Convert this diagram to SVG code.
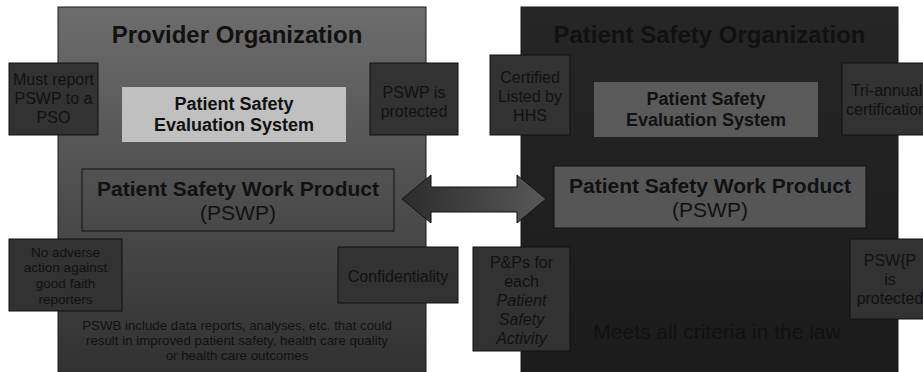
<svg xmlns="http://www.w3.org/2000/svg" width="923" height="372" viewBox="0 0 923 372">
  <style>
    text { font-family: "Liberation Sans", Arial, sans-serif; fill: #111; text-anchor: middle; }
    .title { font-size: 24px; font-weight: bold; }
    .bold { font-weight: bold; }
    .note { font-size: 16px; }
    .side { fill: #323232; stroke: #111; stroke-width: 1; }
    .edge { stroke: #1a1a1a; stroke-width: 1; }
  </style>
  <defs>
    <linearGradient id="providerFill" x1="0" y1="0" x2="0" y2="1">
      <stop offset="0" stop-color="#6d6d6d"/>
      <stop offset="1" stop-color="#303030"/>
    </linearGradient>
    <linearGradient id="psoFill" x1="0" y1="0" x2="0" y2="1">
      <stop offset="0" stop-color="#262626"/>
      <stop offset="1" stop-color="#1b1b1b"/>
    </linearGradient>
    <linearGradient id="arrowFill" x1="0" y1="0" x2="1" y2="0">
      <stop offset="0" stop-color="#2c2c2c"/>
      <stop offset="1" stop-color="#585858"/>
    </linearGradient>
  </defs>

  <rect width="923" height="372" fill="#ffffff"/>

  <!-- Provider organization panel -->
  <g id="provider-organization">
    <rect x="58" y="7" width="368" height="370" fill="url(#providerFill)" class="edge"/>
    <text class="title" x="237" y="43">Provider Organization</text>
  </g>

  <!-- Patient safety organization panel -->
  <g id="patient-safety-organization">
    <rect x="521" y="7" width="377" height="370" fill="url(#psoFill)" class="edge"/>
    <text class="title" x="709.5" y="43">Patient Safety Organization</text>
  </g>

  <g id="provider-pses">
    <rect x="122" y="87" width="224" height="55" fill="#c0c0c0"/>
    <text class="bold" font-size="18" x="234" y="110">Patient Safety</text>
    <text class="bold" font-size="18" x="234" y="131">Evaluation System</text>
  </g>

  <g id="provider-pswp">
    <rect x="82" y="169" width="312" height="62" fill="none" stroke="#111" stroke-width="1"/>
    <text class="bold" font-size="21" x="238" y="196">Patient Safety Work Product</text>
    <text font-size="21" x="238" y="220">(PSWP)</text>
  </g>

  <g id="must-report">
    <rect x="9" y="63" width="89" height="72" class="side"/>
    <text class="note" x="53.5" y="85">Must report</text>
    <text class="note" x="53.5" y="104">PSWP to a</text>
    <text class="note" x="53.5" y="123">PSO</text>
  </g>

  <g id="pswp-protected">
    <rect x="370" y="63" width="88" height="72" class="side"/>
    <text class="note" x="414" y="98">PSWP is</text>
    <text class="note" x="414" y="117">protected</text>
  </g>

  <g id="no-adverse-action">
    <rect x="9" y="239" width="113" height="72" class="side"/>
    <text font-size="13.5" x="65.5" y="257">No adverse</text>
    <text font-size="13.5" x="65.5" y="272">action against</text>
    <text font-size="13.5" x="65.5" y="288">good faith</text>
    <text font-size="13.5" x="65.5" y="304">reporters</text>
  </g>

  <g id="confidentiality">
    <rect x="338" y="247" width="120" height="56" class="side"/>
    <text class="note" x="398" y="282">Confidentiality</text>
  </g>

  <g id="pswb-note">
    <text font-size="13.3" x="237" y="330">PSWB include data reports, analyses, etc. that could</text>
    <text font-size="13.3" x="237" y="345">result in improved patient safety, health care quality</text>
    <text font-size="13.3" x="237" y="360">or health care outcomes</text>
  </g>

  <g id="pso-pses">
    <rect x="594" y="82" width="224" height="55" fill="#5a5a5a"/>
    <text class="bold" font-size="18" x="706" y="105">Patient Safety</text>
    <text class="bold" font-size="18" x="706" y="126">Evaluation System</text>
  </g>

  <g id="pso-pswp">
    <rect x="554" y="166" width="312" height="62" fill="#565656" stroke="#111" stroke-width="1"/>
    <text class="bold" font-size="21" x="710" y="193">Patient Safety Work Product</text>
    <text font-size="21" x="710" y="217">(PSWP)</text>
  </g>

  <g id="certified-listed">
    <rect x="490" y="55" width="80" height="80" class="side"/>
    <text class="note" x="530" y="83">Certified</text>
    <text class="note" x="530" y="102">Listed by</text>
    <text class="note" x="530" y="121">HHS</text>
  </g>

  <g id="tri-annual">
    <rect x="842" y="63" width="89" height="72" class="side"/>
    <text class="note" x="886.5" y="96">Tri-annual</text>
    <text class="note" x="886.5" y="115">certification</text>
  </g>

  <g id="policies-procedures">
    <rect x="473" y="247" width="97" height="104" class="side"/>
    <text class="note" x="521.5" y="268">P&amp;Ps for</text>
    <text class="note" x="521.5" y="287">each</text>
    <text class="note" x="521.5" y="306" font-style="italic">Patient</text>
    <text class="note" x="521.5" y="325" font-style="italic">Safety</text>
    <text class="note" x="521.5" y="344" font-style="italic">Activity</text>
  </g>

  <g id="pso-pswp-protected">
    <rect x="850" y="239" width="80" height="80" class="side"/>
    <text class="note" x="890" y="266">PSW{P</text>
    <text class="note" x="890" y="285">is</text>
    <text class="note" x="890" y="304">protected</text>
  </g>

  <g id="meets-criteria">
    <text font-size="21" x="717" y="339" fill="#0d0d0d">Meets all criteria in the law</text>
  </g>

  <!-- Connectors -->
  <g id="connectors">
    <polygon points="402,199 431,175 431,187 517,187 517,175 546,199 517,223 517,212 431,212 431,223" fill="url(#arrowFill)" stroke="#111" stroke-width="1"/>
  </g>
</svg>
